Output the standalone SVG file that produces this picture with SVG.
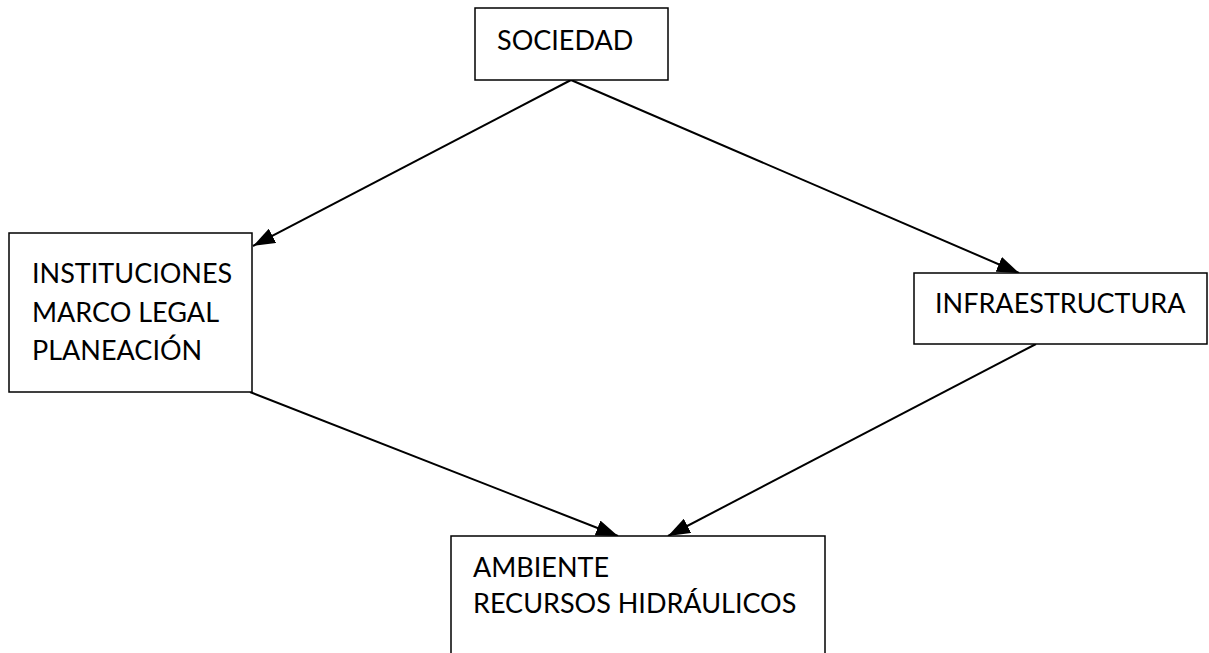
<svg xmlns="http://www.w3.org/2000/svg" width="1209" height="653" viewBox="0 0 1209 653">
<style>
.box{fill:#fff;stroke:#000;stroke-width:1.5}
.t{font-family:Lato,"Noto Sans",sans-serif;font-size:27px;fill:#000}
.c{stroke:#000;stroke-width:2;fill:none;marker-end:url(#ah)}
</style>
<defs>
<marker id="ah" markerWidth="11" markerHeight="8" refX="11" refY="4" orient="auto" markerUnits="strokeWidth">
<path d="M0,0 L11,4 L0,8 Z" fill="#000"/>
</marker>
</defs>
<rect width="1209" height="653" fill="#fff"/>
<g id="connectors">
<line class="c" x1="571" y1="80" x2="253" y2="246"/>
<line class="c" x1="571" y1="80" x2="1019" y2="273"/>
<line class="c" x1="250" y1="392" x2="618" y2="536"/>
<line class="c" x1="1036" y1="344" x2="668" y2="536"/>
</g>
<g id="sociedad">
<rect class="box" x="475" y="8" width="193" height="72"/>
<text class="t" x="497" y="50">SOCIEDAD</text>
</g>
<g id="instituciones">
<rect class="box" x="9" y="233" width="243" height="159"/>
<text class="t" x="32" y="283">INSTITUCIONES</text>
<text class="t" x="32" y="322">MARCO LEGAL</text>
<text class="t" x="32" y="360">PLANEACIÓN</text>
</g>
<g id="infraestructura">
<rect class="box" x="914" y="273" width="293" height="71"/>
<text class="t" x="935" y="313">INFRAESTRUCTURA</text>
</g>
<g id="ambiente">
<rect class="box" x="451" y="536" width="374" height="130"/>
<text class="t" x="473" y="577">AMBIENTE</text>
<text class="t" x="473" y="613">RECURSOS HIDRÁULICOS</text>
</g>
</svg>
